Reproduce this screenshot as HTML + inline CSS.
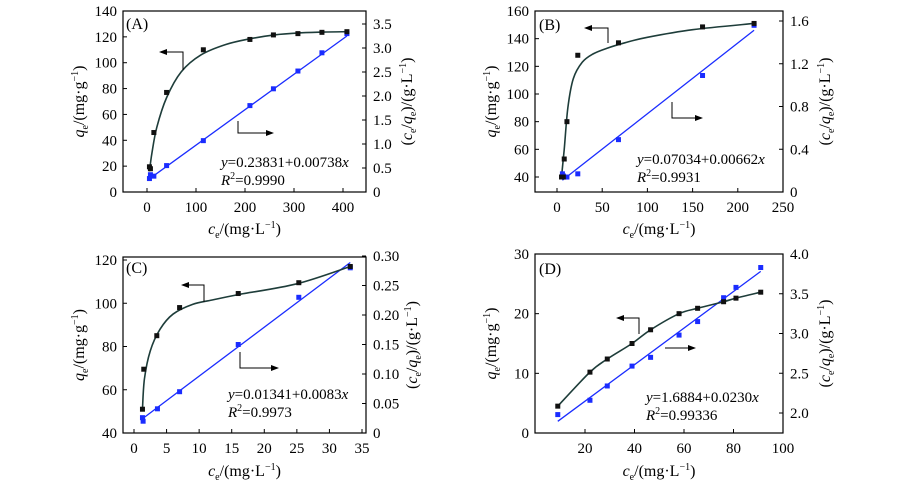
<!DOCTYPE html>
<html><head><meta charset="utf-8"><style>
html,body{margin:0;padding:0;background:#fff;width:900px;height:486px;overflow:hidden}
svg, svg text{display:block;font-family:"Liberation Serif","DejaVu Serif","Times New Roman",serif}
</style></head><body>
<svg id="chart" width="900" height="486" viewBox="0 0 900 486" xmlns="http://www.w3.org/2000/svg" font-family="Liberation Serif, DejaVu Serif, serif"></svg>
<script>
// ---- Panel A data ----
const aQx=[5,7,14,40,115,210,258,308,357,408];
const aQy=[19.5,18,46,77,110,118,121.5,122.5,123.5,124];
const aRx=[5,7,14,40,115,210,258,308,357,408];
const aRy=[0.28,0.36,0.33,0.55,1.07,1.8,2.15,2.52,2.9,3.3];
const aCurveX=[5,10,20,40,70,110,160,210,260,310,360,408];
const aCurveY=[16,30,50,73,93,106,114,118.5,121.5,123,123.7,124];
const aFit=[0.23831,0.00738];
const aXticks=[0,100,200,300,400];
const aLticks=[0,20,40,60,80,100,120,140];
const aRticks=["0","0.5","1.0","1.5","2.0","2.5","3.0","3.5"];
// ---- Panel B data ----
const bQx=[5,7,8,11,23,68,161,218];
const bQy=[40,40,53,80,128,137,148.5,151];
const bRx=[6,7,8,11,23,68,161,218];
const bRy=[0.17,0.15,0.14,0.14,0.17,0.49,1.09,1.56];
const bCurveX=[5,8,12,18,28,40,55,75,100,150,218];
const bCurveY=[40,60,90,111,123,129,133,137,141,146.5,151];
const bFit=[0.07034,0.00662];
const bXticks=[0,50,100,150,200,250];
const bLticks=[40,60,80,100,120,140,160];
const bRticks=["0","0.4","0.8","1.2","1.6"];
// ---- Panel C data ----
const cQx=[1.3,1.5,3.5,7,16,25.3,33.2];
const cQy=[51,69.5,85,98,104.5,109.5,117];
const cRx=[1.3,1.4,3.6,7,16,25.3,33.2];
const cRy=[0.026,0.020,0.041,0.07,0.15,0.23,0.28];
const cCurveX=[1.3,1.6,2.5,4,6,9,12,16,25,33.2];
const cCurveY=[51,65,78,88,95,99.5,101.5,104,109,117];
const cFit=[0.01341,0.0083];
const cXticks=[0,5,10,15,20,25,30,35];
const cLticks=[40,60,80,100,120];
const cRticks=["0","0.05","0.10","0.15","0.20","0.25","0.30"];
// ---- Panel D data ----
const dQx=[9,22,29,39,46.5,58,65.5,76,81,91];
const dQy=[4.5,10.2,12.4,15,17.3,20,20.9,22,22.6,23.6];
const dRx=[9,22,29,39,46.5,58,65.5,76,81,91];
const dRy=[1.98,2.16,2.34,2.59,2.70,2.98,3.15,3.45,3.58,3.83];
const dCurveX=dQx;
const dCurveY=dQy;
const dFit=[1.6884,0.0230];
const dXticks=[20,40,60,80,100];
const dLticks=[0,10,20,30];
const dRticks=["2.0","2.5","3.0","3.5","4.0"];

const NS="http://www.w3.org/2000/svg";
const svg=document.getElementById('chart');
function mk(tag,attrs,parent,txt){const e=document.createElementNS(NS,tag);for(const k in attrs)e.setAttribute(k,attrs[k]);if(txt!==undefined)e.textContent=txt;(parent||svg).appendChild(e);return e;}
function lin(d0,d1,r0,r1){return v=>r0+(v-d0)*(r1-r0)/(d1-d0);}
function catmull(pts){let d=`M${pts[0][0]},${pts[0][1]}`;for(let i=0;i<pts.length-1;i++){const p0=pts[i-1]||pts[i],p1=pts[i],p2=pts[i+1],p3=pts[i+2]||p2;
d+=` C${p1[0]+(p2[0]-p0[0])/6},${p1[1]+(p2[1]-p0[1])/6} ${p2[0]-(p3[0]-p1[0])/6},${p2[1]-(p3[1]-p1[1])/6} ${p2[0]},${p2[1]}`;}return d;}

function panel(P){
  const g=mk('g',{},svg);
  
  
  const x=lin(P.xd[0],P.xd[1],P.xr[0],P.xr[1]);
  const yl=lin(P.ld[0],P.ld[1],P.lr[0],P.lr[1]);
  const yr=lin(P.rd[0],P.rd[1],P.rr[0],P.rr[1]);
  const fr=mk('rect',{x:P.box[0],y:P.box[1],width:P.box[2]-P.box[0],height:P.box[3]-P.box[1],fill:'none',stroke:'#000','stroke-width':1.2},g);
  
  const B=P.box[3],L=P.box[0],R=P.box[2];
  P.xticks.forEach(v=>{const px=x(v);mk('line',{x1:px,x2:px,y1:B,y2:B-4,stroke:'#000'},g);
    const t=mk('text',{x:px,y:B+20,'text-anchor':'middle','font-size':15},g,String(v));});
  P.lticks.forEach(v=>{const py=yl(v);mk('line',{x1:L,x2:L+4,y1:py,y2:py,stroke:'#000'},g);
    const t=mk('text',{x:L-6,y:py+5,'text-anchor':'end','font-size':15},g,String(v));});
  P.rticks.forEach(s=>{const py=yr(parseFloat(s));mk('line',{x1:R,x2:R-4,y1:py,y2:py,stroke:'#000'},g);
    const t=mk('text',{x:R+7,y:py+5,'text-anchor':'start','font-size':15},g,s);});
  const fx0=Math.min(...P.rx),fx1=Math.max(...P.rx);
  const fl=mk('line',{x1:x(fx0),y1:yr(P.fit[0]+P.fit[1]*fx0),x2:x(fx1),y2:yr(P.fit[0]+P.fit[1]*fx1),stroke:'#1a2cff','stroke-width':1.3},g);
  
  const pts=P.cx.map((v,i)=>[x(v),yl(P.cy[i])]);
  const cv=mk('path',{d:catmull(pts),fill:'none',stroke:'#1e3d3a','stroke-width':1.6},g);
  
  P.rx.forEach((v,i)=>{const m=mk('rect',{x:x(v)-2.5,y:yr(P.ry[i])-2.5,width:5,height:5,fill:'#1a2cff'},g);
    });
  P.qx.forEach((v,i)=>{const m=mk('rect',{x:x(v)-2.5,y:yl(P.qy[i])-2.5,width:5,height:5,fill:'#111'},g);
    });
  const a=P.la;const al=mk('polyline',{points:`${a[0]},${a[2]} ${a[0]},${a[1]} ${a[3]+6},${a[1]}`,fill:'none',stroke:'#000'},g);
  
  mk('polygon',{points:`${a[3]},${a[1]} ${a[3]+8},${a[1]-3} ${a[3]+8},${a[1]+3}`,fill:'#000'},g);
  const b=P.ra;const ar=mk('polyline',{points:`${b[0]},${b[1]} ${b[0]},${b[2]} ${b[3]-6},${b[2]}`,fill:'none',stroke:'#000'},g);
  
  mk('polygon',{points:`${b[3]},${b[2]} ${b[3]-8},${b[2]-3} ${b[3]-8},${b[2]+3}`,fill:'#000'},g);
  const lb=mk('text',{x:P.lab[0],y:P.lab[1],'font-size':16},g,'('+P.id+')');
  const e1=mk('text',{x:P.eq[0],y:P.eq[1],'font-size':15},g);
  e1.innerHTML=`<tspan font-style="italic">y</tspan>=${P.fit[0]}+${P.fitTxt}<tspan font-style="italic">x</tspan>`;
  const e2=mk('text',{x:P.eq[0],y:P.eq[1]+18,'font-size':15},g);
  e2.innerHTML=`<tspan font-style="italic">R</tspan><tspan font-size="10" dy="-6">2</tspan><tspan dy="6">=${P.r2}</tspan>`;
  const cx=(L+R)/2;
  const xt=mk('text',{x:cx,y:P.xt,'text-anchor':'middle','font-size':16},g);
  xt.innerHTML=`<tspan font-style="italic">c</tspan><tspan font-size="10" dy="4">e</tspan><tspan dy="-4">/(mg·L</tspan><tspan font-size="10" dy="-6">−1</tspan><tspan dy="6">)</tspan>`;
  const my=(P.box[1]+B)/2;
  const lt=mk('text',{x:P.lt,y:my,'text-anchor':'middle','font-size':16,transform:`rotate(-90 ${P.lt} ${my})`},g);
  lt.innerHTML=`<tspan font-style="italic">q</tspan><tspan font-size="10" dy="4">e</tspan><tspan dy="-4">/(mg·g</tspan><tspan font-size="10" dy="-6">−1</tspan><tspan dy="6">)</tspan>`;
  const rt=mk('text',{x:P.rt,y:my,'text-anchor':'middle','font-size':16,transform:`rotate(-90 ${P.rt} ${my})`},g);
  rt.innerHTML=`(<tspan font-style="italic">c</tspan><tspan font-size="10" dy="4">e</tspan><tspan dy="-4">/</tspan><tspan font-style="italic">q</tspan><tspan font-size="10" dy="4">e</tspan><tspan dy="-4">)/(g·L</tspan><tspan font-size="10" dy="-6">−1</tspan><tspan dy="6">)</tspan>`;
}

panel({id:'A',box:[123,11,366,192],xd:[0,400],xr:[147,343],ld:[0,140],lr:[192,11],rd:[0,3.5],rr:[192,24],
  xticks:aXticks,lticks:aLticks,rticks:aRticks,qx:aQx,qy:aQy,rx:aRx,ry:aRy,cx:aCurveX,cy:aCurveY,fit:aFit,fitTxt:'0.00738',r2:'0.9990',
  la:[183,52,70,159],ra:[238,121,133,274],lab:[126,29],eq:[221,167],xt:234,lt:84,rt:412});
panel({id:'B',box:[535,11,783,192],xd:[0,250],xr:[557,783],ld:[40,160],lr:[177,11],rd:[0,1.6],rr:[192,21],
  xticks:bXticks,lticks:bLticks,rticks:bRticks,qx:bQx,qy:bQy,rx:bRx,ry:bRy,cx:bCurveX,cy:bCurveY,fit:bFit,fitTxt:'0.00662',r2:'0.9931',
  la:[608,28,43,584],ra:[672,102,118,703],lab:[539,30],eq:[637,164],xt:234,lt:496,rt:830});
panel({id:'C',box:[123,257,366,433],xd:[0,35],xr:[134,362],ld:[40,120],lr:[433,260],rd:[0,0.30],rr:[433,256],
  xticks:cXticks,lticks:cLticks,rticks:cRticks,qx:cQx,qy:cQy,rx:cRx,ry:cRy,cx:cCurveX,cy:cCurveY,fit:cFit,fitTxt:'0.0083',r2:'0.9973',
  la:[204,285,302,181],ra:[240,352,368,279],lab:[126,273],eq:[228,399],xt:476,lt:84,rt:417});
panel({id:'D',box:[535,254,783,433],xd:[0,100],xr:[535.5,783],ld:[0,30],lr:[433,254],rd:[2,4],rr:[413,254],
  xticks:dXticks,lticks:dLticks,rticks:dRticks,qx:dQx,qy:dQy,rx:dRx,ry:dRy,cx:dCurveX,cy:dCurveY,fit:dFit,fitTxt:'0.0230',r2:'0.99336',
  la:[639,318,334,616],ra:[665,348,348,696],lab:[539,274],eq:[646,402],xt:476,lt:496,rt:830});
</script>
</body></html>
